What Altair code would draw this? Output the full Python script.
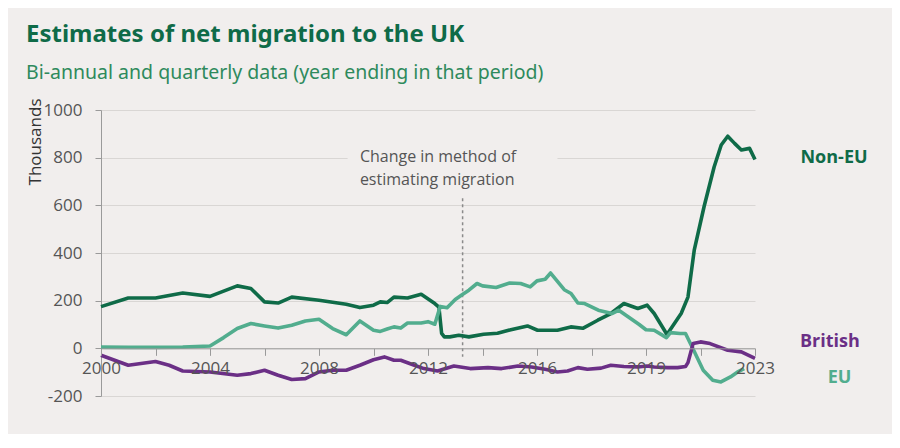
import altair as alt
import pandas as pd

# ---------------- data (x = position on the time axis, in years) ----------------
non_eu_x = [2000, 2001, 2002, 2003, 2004, 2005, 2005.5, 2006, 2006.5, 2007, 2008, 2009,
            2009.5, 2010, 2010.25, 2010.5, 2010.75, 2011.25, 2011.75, 2012.25, 2012.4,
            2012.5, 2012.6, 2012.8, 2013.13, 2013.5, 2014.04, 2014.55, 2015.04, 2015.65,
            2016.02, 2016.75, 2017.24, 2017.68, 2018.23, 2018.71, 2019.19, 2019.7, 2020.04,
            2020.3, 2020.77, 2021.29, 2021.54, 2021.77, 2022.13, 2022.5, 2022.76, 2023.0,
            2023.25, 2023.5, 2023.8, 2024.0]
non_eu_v = [175, 211, 211, 232, 218, 262, 251, 195, 190, 215, 202, 185,
            171, 181, 195, 192, 215, 211, 227, 188, 173,
            63, 48, 48, 55, 48, 59, 63, 78, 94,
            76, 76, 90, 84, 118, 146, 188, 167, 181,
            146, 58, 146, 215, 412, 594, 761, 853, 890,
            860, 832, 839, 792]

eu_x = [2000, 2001, 2002, 2003, 2004, 2004.5, 2005, 2005.5, 2006, 2006.5, 2007, 2007.5,
        2008, 2008.5, 2009, 2009.5, 2010, 2010.25, 2010.5, 2010.75, 2011, 2011.25,
        2011.75, 2012, 2012.25, 2012.45, 2012.7, 2013, 2013.25, 2013.5, 2013.8, 2014,
        2014.5, 2015, 2015.4, 2015.75, 2016, 2016.3, 2016.5, 2017, 2017.25, 2017.5,
        2017.75, 2018.25, 2018.75, 2019, 2019.5, 2019.75, 2020, 2020.3, 2020.75, 2020.9,
        2021.25, 2021.45, 2021.75, 2022.1, 2022.45, 2022.75, 2023.1, 2023.35, 2023.6]
eu_v = [5, 4, 4, 5, 10, 45, 83, 104, 94, 85, 97, 115,
        122, 83, 57, 115, 76, 71, 81, 90, 85, 106,
        106, 112, 101, 176, 170, 205, 225, 244, 272, 262,
        255, 274, 272, 258, 283, 290, 316, 246, 230, 190,
        188, 160, 146, 160, 120, 100, 78, 76, 45, 66,
        62, 62, -8, -92, -134, -141, -120, -100, -85]

british_x = [2000, 2000.5, 2001, 2002, 2002.5, 2003, 2004, 2005, 2005.5, 2006, 2006.5,
             2007, 2007.5, 2008, 2008.5, 2009, 2009.5, 2010, 2010.4, 2010.75, 2011,
             2011.5, 2011.85, 2012.35, 2012.95, 2013.55, 2014.2, 2014.7, 2015.3, 2015.8,
             2016.3, 2016.75, 2017.12, 2017.5, 2017.85, 2018.35, 2018.71, 2019.19, 2019.7,
             2020.04, 2020.3, 2020.8, 2021.16, 2021.45, 2021.54, 2021.73, 2022.0, 2022.35,
             2023.0, 2023.5, 2024.0]
british_v = [-29, -50, -71, -55, -71, -95, -99, -113, -106, -92, -113,
             -131, -127, -99, -92, -92, -71, -48, -36, -50, -50,
             -71, -85, -95, -74, -85, -81, -85, -74, -78,
             -88, -99, -95, -81, -88, -83, -71, -76, -78,
             -74, -78, -81, -81, -76, -60, 20, 27, 20,
             -8, -15, -42]

series_names = ["Non-EU", "EU", "British"]
series_colors = ["#0f6b48", "#52ad8e", "#6b2f86"]

label_x = [2026.9, 2027.1, 2026.75]
label_y = [800, -126, 25]

tick_positions = [2000, 2004, 2008, 2012, 2016, 2020, 2024]
tick_labels = ["2000", "2004", "2008", "2012", "2016", "2019", "2023"]
y_ticks = [-200, 0, 200, 400, 600, 800, 1000]

note_lines = ["Change in method of", "estimating migration"]
note_x = [2009.5, 2009.5]
note_y = [802, 706]
change_x = 2013.27
change_y = [630, -35]
note_box_x = [2009.05, 2016.75]
note_box_y = [700, 860]

BG = "#f1eeed"

# ---------------- build tables ----------------
rows = []
for name, xs, vs in [("Non-EU", non_eu_x, non_eu_v), ("EU", eu_x, eu_v), ("British", british_x, british_v)]:
    for i, (x, v) in enumerate(zip(xs, vs)):
        rows.append({"series": name, "t": x, "value": v, "order": i})
df = pd.DataFrame(rows)

lab_df = pd.DataFrame({"series": series_names, "t": label_x, "value": label_y})
note_df = pd.DataFrame({"text": note_lines, "t": note_x, "value": note_y})
rule_df = pd.DataFrame({"t": [change_x], "y1": [change_y[0]], "y2": [change_y[1]]})
box_df = pd.DataFrame({"x1": [note_box_x[0]], "x2": [note_box_x[1]],
                       "y1": [note_box_y[0]], "y2": [note_box_y[1]]})

label_expr = " : ".join(
    [f"datum.value == {p} ? '{l}'" for p, l in zip(tick_positions, tick_labels)]
) + " : ''"

xscale = alt.Scale(domain=[2000, 2024], nice=False, zero=False)
yscale = alt.Scale(domain=[-200, 1000], nice=False)
color_scale = alt.Scale(domain=series_names, range=series_colors)

x_axis = alt.Axis(
    values=list(range(2000, 2025)), labelExpr=label_expr, title=None,
    offset=-47.67, tickSize=7, tickColor="#9a9a9a", domainColor="#9a9a9a",
    labelFont="Open Sans", labelFontSize=17, labelColor="#555555",
    labelPadding=5, labelFlush=False, labelOverlap=False, grid=False, zindex=1,
)
y_axis = alt.Axis(
    values=y_ticks, title="Thousands", labelExpr="'' + datum.value",
    titleFont="Open Sans", titleFontSize=17, titleFontWeight="normal", titleColor="#333333",
    titleAngle=270, titleAlign="right", titleBaseline="alphabetic", titleX=-61, titleY=-12,
    labelFont="Open Sans", labelFontSize=17, labelColor="#555555", labelPadding=13,
    tickSize=6, tickColor="#9a9a9a", domainColor="#9a9a9a",
    grid=True, gridColor="#d9d6d4", gridWidth=1,
)

box = alt.Chart(box_df).mark_rect(color=BG).encode(
    x=alt.X("x1:Q", scale=xscale, axis=x_axis), x2="x2:Q",
    y=alt.Y("y1:Q", scale=yscale, axis=y_axis), y2="y2:Q",
)

rule = alt.Chart(rule_df).mark_rule(color="#8a8a8a", strokeDash=[3, 3], strokeWidth=1.5).encode(
    x=alt.X("t:Q", scale=xscale), y=alt.Y("y1:Q", scale=yscale), y2="y2:Q",
)

lines = alt.Chart(df).mark_line(strokeWidth=3.6, strokeJoin="round").encode(
    x=alt.X("t:Q", scale=xscale),
    y=alt.Y("value:Q", scale=yscale),
    color=alt.Color("series:N", scale=color_scale, legend=None),
    detail="series:N",
    order="order:Q",
)

labels = alt.Chart(lab_df).mark_text(font="Open Sans", fontSize=18, fontWeight="bold",
                                      align="center", baseline="middle").encode(
    x=alt.X("t:Q", scale=xscale),
    y=alt.Y("value:Q", scale=yscale),
    text="series:N",
    color=alt.Color("series:N", scale=color_scale, legend=None),
)

notes = alt.Chart(note_df).mark_text(font="Open Sans", fontSize=16, color="#555555",
                                      align="left", baseline="middle").encode(
    x=alt.X("t:Q", scale=xscale),
    y=alt.Y("value:Q", scale=yscale),
    text="text:N",
)

chart = alt.layer(box, rule, notes, lines, labels).properties(
    width=654, height=286,
    autosize=alt.AutoSizeParams(type="none"),
    padding={"left": 93, "top": 102, "right": 137, "bottom": 38},
    background=BG,
    title=alt.TitleParams(
        text="Estimates of net migration to the UK",
        subtitle="Bi-annual and quarterly data (year ending in that period)",
        anchor="start", frame="bounds", offset=16,
        font="Noto Sans", fontSize=24, fontWeight="bold", color="#0f6b48",
        subtitleFont="Noto Sans", subtitleFontSize=19.5, subtitleColor="#2e8a5c",
        subtitlePadding=17,
    ),
).configure_view(strokeWidth=0)

chart.save("out.html", embed_options={"renderer": "svg", "actions": False})
